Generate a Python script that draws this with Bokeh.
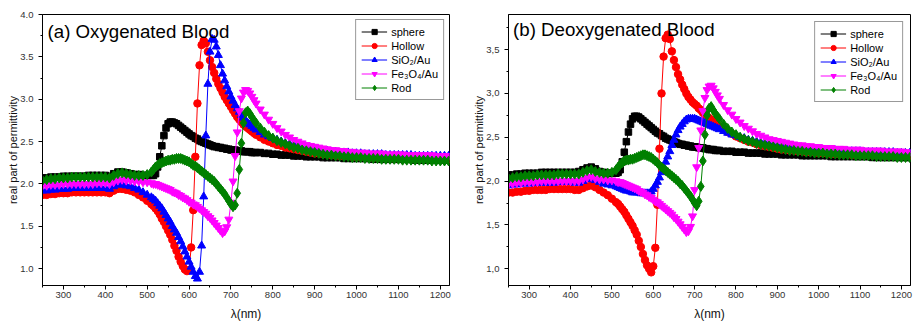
from bokeh.plotting import figure
from bokeh.layouts import row
from bokeh.models import FixedTicker, Label, Range1d, CustomJSTickFormatter
from bokeh.embed import file_html
from bokeh.resources import INLINE

# wavelength grid (nm)
WL = [250, 260, 270, 280, 290, 300, 310, 320, 330, 340,
      350, 360, 370, 380, 390, 400, 410, 420, 430, 440,
      450, 460, 470, 480, 490, 500, 510,
      515, 520, 525, 530, 535, 540, 545, 550, 555, 560,
      565, 570, 575, 580, 585, 590, 595, 600, 605, 610,
      615, 620, 625, 630, 635, 640, 645, 650, 655, 660,
      665, 670, 675, 680, 685, 690, 695, 700, 705, 710,
      715, 720, 725, 730, 735, 740, 745, 750, 755, 760,
      770, 780, 790, 800, 810, 820, 830, 840, 850, 860,
      870, 880, 890, 900, 910, 920, 930, 940, 950, 960,
      970, 980, 990, 1000, 1010, 1020, 1030, 1040, 1050, 1060,
      1070, 1080, 1090, 1100, 1110, 1120, 1130, 1140, 1150, 1160,
      1170, 1180, 1190, 1200, 1210, 1220]

SERIES_NAMES = ["sphere", "Hollow", "SiO\u2082/Au", "Fe\u2083O\u2084/Au", "Rod"]

# ---------------- (a) Oxygenated blood ----------------
OXY_SPHERE = [2.07, 2.07, 2.08, 2.08, 2.08, 2.09, 2.09, 2.09, 2.09, 2.09,
              2.09, 2.10, 2.10, 2.10, 2.10, 2.10, 2.09, 2.12, 2.14, 2.14,
              2.13, 2.12, 2.11, 2.11, 2.10, 2.10, 2.10,
              2.10, 2.12, 2.20, 2.32, 2.45, 2.57, 2.66, 2.71, 2.73, 2.73,
              2.72, 2.71, 2.69, 2.67, 2.65, 2.63, 2.61, 2.59, 2.57, 2.56,
              2.54, 2.53, 2.51, 2.50, 2.49, 2.48, 2.47, 2.46, 2.45, 2.44,
              2.44, 2.43, 2.43, 2.42, 2.42, 2.41, 2.41, 2.40, 2.40, 2.40,
              2.39, 2.39, 2.39, 2.38, 2.38, 2.38, 2.38, 2.37, 2.37, 2.37,
              2.37, 2.36, 2.36, 2.35, 2.35, 2.34, 2.34, 2.34, 2.33, 2.33,
              2.33, 2.32, 2.32, 2.32, 2.32, 2.31, 2.31, 2.31, 2.31, 2.31,
              2.30, 2.30, 2.30, 2.30, 2.30, 2.30, 2.30, 2.29, 2.29, 2.29,
              2.29, 2.29, 2.29, 2.29, 2.29, 2.29, 2.29, 2.28, 2.28, 2.28,
              2.28, 2.28, 2.28, 2.28, 2.28, 2.28]
OXY_HOLLOW = [1.87, 1.87, 1.88, 1.88, 1.89, 1.89, 1.89, 1.90, 1.90, 1.90,
              1.90, 1.90, 1.90, 1.90, 1.90, 1.90, 1.89, 1.92, 1.94, 1.94,
              1.93, 1.92, 1.90, 1.87, 1.84, 1.80, 1.76,
              1.74, 1.71, 1.68, 1.64, 1.59, 1.55, 1.50, 1.45, 1.40, 1.34,
              1.27, 1.21, 1.14, 1.08, 1.03, 0.99, 0.97, 0.98, 1.25, 1.69,
              2.32, 2.95, 3.40, 3.64, 3.69, 3.66, 3.56, 3.46, 3.38, 3.31,
              3.24, 3.18, 3.13, 3.08, 3.03, 2.99, 2.95, 2.91, 2.87, 2.83,
              2.79, 2.76, 2.73, 2.70, 2.68, 2.66, 2.64, 2.62, 2.60, 2.58,
              2.55, 2.52, 2.50, 2.48, 2.46, 2.45, 2.43, 2.42, 2.41, 2.40,
              2.39, 2.38, 2.37, 2.36, 2.36, 2.35, 2.35, 2.34, 2.34, 2.33,
              2.33, 2.33, 2.32, 2.32, 2.32, 2.32, 2.31, 2.31, 2.31, 2.31,
              2.31, 2.31, 2.30, 2.30, 2.30, 2.30, 2.30, 2.30, 2.30, 2.30,
              2.30, 2.30, 2.30, 2.30, 2.29, 2.29]
OXY_SIO2 = [1.92, 1.92, 1.93, 1.93, 1.94, 1.94, 1.94, 1.95, 1.95, 1.95,
            1.95, 1.95, 1.95, 1.95, 1.95, 1.95, 1.94, 1.97, 1.99, 1.99,
            1.98, 1.97, 1.95, 1.93, 1.90, 1.87, 1.84,
            1.82, 1.80, 1.77, 1.74, 1.71, 1.67, 1.63, 1.59, 1.55, 1.50,
            1.46, 1.42, 1.37, 1.32, 1.26, 1.20, 1.14, 1.08, 1.02, 0.96,
            0.91, 0.88, 0.96, 1.27, 1.85, 2.57, 3.18, 3.56, 3.71, 3.70,
            3.62, 3.52, 3.40, 3.30, 3.22, 3.15, 3.09, 3.03, 2.98, 2.93,
            2.89, 2.85, 2.81, 2.78, 2.75, 2.72, 2.70, 2.68, 2.66, 2.64,
            2.61, 2.58, 2.56, 2.54, 2.52, 2.50, 2.48, 2.47, 2.46, 2.44,
            2.43, 2.42, 2.41, 2.41, 2.40, 2.39, 2.39, 2.38, 2.38, 2.37,
            2.37, 2.37, 2.36, 2.36, 2.36, 2.35, 2.35, 2.35, 2.35, 2.35,
            2.34, 2.34, 2.34, 2.34, 2.34, 2.34, 2.34, 2.33, 2.33, 2.33,
            2.33, 2.33, 2.33, 2.33, 2.33, 2.33]
OXY_FE3O4 = [1.98, 1.98, 1.99, 1.99, 1.99, 2.00, 2.00, 2.00, 2.00, 2.00,
             2.00, 2.00, 2.00, 2.01, 2.01, 2.01, 2.00, 2.02, 2.04, 2.05,
             2.04, 2.04, 2.03, 2.03, 2.02, 2.02, 2.01,
             2.00, 2.00, 1.99, 1.98, 1.97, 1.96, 1.95, 1.94, 1.93, 1.91,
             1.90, 1.89, 1.87, 1.86, 1.84, 1.83, 1.81, 1.79, 1.78, 1.76,
             1.75, 1.73, 1.71, 1.69, 1.67, 1.65, 1.62, 1.60, 1.57, 1.54,
             1.51, 1.48, 1.45, 1.42, 1.44, 1.49, 1.58, 1.78, 2.03, 2.33,
             2.61, 2.86, 3.01, 3.08, 3.11, 3.10, 3.07, 3.03, 2.99, 2.95,
             2.88, 2.82, 2.76, 2.71, 2.66, 2.62, 2.58, 2.55, 2.52, 2.50,
             2.48, 2.46, 2.45, 2.44, 2.43, 2.42, 2.41, 2.40, 2.40, 2.39,
             2.39, 2.38, 2.38, 2.37, 2.37, 2.37, 2.36, 2.36, 2.36, 2.36,
             2.35, 2.35, 2.35, 2.35, 2.35, 2.34, 2.34, 2.34, 2.34, 2.34,
             2.34, 2.34, 2.33, 2.33, 2.33, 2.33]
OXY_ROD = [2.04, 2.05, 2.06, 2.06, 2.07, 2.07, 2.07, 2.08, 2.08, 2.08,
           2.08, 2.08, 2.08, 2.08, 2.08, 2.08, 2.07, 2.10, 2.12, 2.13,
           2.12, 2.11, 2.10, 2.10, 2.10, 2.11, 2.14,
           2.17, 2.20, 2.22, 2.24, 2.25, 2.26, 2.27, 2.28, 2.28, 2.29,
           2.29, 2.30, 2.30, 2.30, 2.29, 2.28, 2.27, 2.26, 2.24, 2.22,
           2.21, 2.19, 2.17, 2.15, 2.13, 2.11, 2.09, 2.07, 2.05, 2.03,
           2.00, 1.97, 1.94, 1.91, 1.88, 1.84, 1.80, 1.76, 1.73, 1.75,
           1.89, 2.17, 2.48, 2.72, 2.84, 2.86, 2.83, 2.79, 2.75, 2.72,
           2.66, 2.61, 2.57, 2.54, 2.51, 2.49, 2.47, 2.45, 2.43, 2.42,
           2.40, 2.39, 2.38, 2.37, 2.36, 2.35, 2.34, 2.34, 2.33, 2.33,
           2.32, 2.32, 2.31, 2.31, 2.31, 2.30, 2.30, 2.30, 2.30, 2.29,
           2.29, 2.29, 2.29, 2.29, 2.28, 2.28, 2.28, 2.28, 2.28, 2.28,
           2.28, 2.27, 2.27, 2.27, 2.27, 2.27]

# ---------------- (b) Deoxygenated blood ----------------
DEOXY_SPHERE = [2.07, 2.07, 2.08, 2.08, 2.09, 2.09, 2.09, 2.09, 2.10, 2.10,
                2.10, 2.10, 2.10, 2.10, 2.10, 2.10, 2.10, 2.11, 2.13, 2.15,
                2.16, 2.14, 2.11, 2.10, 2.09, 2.09, 2.09,
                2.10, 2.13, 2.22, 2.33, 2.45, 2.56, 2.65, 2.71, 2.74, 2.74,
                2.73, 2.71, 2.69, 2.67, 2.65, 2.63, 2.61, 2.59, 2.57, 2.55,
                2.54, 2.52, 2.51, 2.49, 2.48, 2.47, 2.46, 2.45, 2.44, 2.43,
                2.42, 2.42, 2.41, 2.41, 2.40, 2.40, 2.39, 2.39, 2.39, 2.38,
                2.38, 2.38, 2.37, 2.37, 2.36, 2.36, 2.36, 2.35, 2.35, 2.35,
                2.34, 2.34, 2.34, 2.33, 2.33, 2.33, 2.32, 2.32, 2.32, 2.32,
                2.31, 2.31, 2.31, 2.31, 2.30, 2.30, 2.30, 2.30, 2.30, 2.29,
                2.29, 2.29, 2.29, 2.29, 2.29, 2.29, 2.28, 2.28, 2.28, 2.28,
                2.28, 2.28, 2.28, 2.28, 2.28, 2.28, 2.27, 2.27, 2.27, 2.27,
                2.27, 2.27, 2.27, 2.27, 2.27, 2.27]
DEOXY_HOLLOW = [1.87, 1.87, 1.88, 1.88, 1.89, 1.89, 1.90, 1.90, 1.90, 1.90,
                1.91, 1.91, 1.91, 1.91, 1.91, 1.91, 1.90, 1.90, 1.92, 1.94,
                1.95, 1.93, 1.90, 1.87, 1.84, 1.80, 1.76,
                1.74, 1.71, 1.68, 1.65, 1.61, 1.57, 1.53, 1.49, 1.44, 1.39,
                1.32, 1.25, 1.17, 1.10, 1.04, 1.00, 0.96, 1.03, 1.24, 1.73,
                2.37, 3.00, 3.42, 3.63, 3.67, 3.62, 3.48, 3.38, 3.30, 3.22,
                3.16, 3.10, 3.05, 3.00, 2.96, 2.93, 2.90, 2.88, 2.86, 2.83,
                2.81, 2.78, 2.76, 2.74, 2.72, 2.70, 2.68, 2.66, 2.64, 2.62,
                2.59, 2.56, 2.54, 2.51, 2.49, 2.47, 2.45, 2.44, 2.42, 2.41,
                2.40, 2.39, 2.38, 2.37, 2.36, 2.36, 2.35, 2.35, 2.34, 2.34,
                2.33, 2.33, 2.33, 2.32, 2.32, 2.32, 2.31, 2.31, 2.31, 2.31,
                2.31, 2.30, 2.30, 2.30, 2.30, 2.30, 2.30, 2.30, 2.30, 2.29,
                2.29, 2.29, 2.29, 2.29, 2.29, 2.29]
DEOXY_SIO2 = [1.95, 1.96, 1.96, 1.97, 1.97, 1.97, 1.98, 1.98, 1.98, 1.98,
              1.98, 1.98, 1.99, 1.99, 1.99, 1.99, 1.98, 1.98, 2.00, 2.02,
              2.03, 2.01, 1.99, 1.97, 1.96, 1.95, 1.94,
              1.93, 1.92, 1.91, 1.90, 1.89, 1.89, 1.88, 1.87, 1.87, 1.87,
              1.87, 1.86, 1.86, 1.86, 1.86, 1.86, 1.88, 1.91, 1.95, 1.99,
              2.04, 2.10, 2.16, 2.22, 2.28, 2.34, 2.41, 2.47, 2.53, 2.58,
              2.62, 2.65, 2.68, 2.70, 2.71, 2.71, 2.71, 2.71, 2.70, 2.69,
              2.68, 2.67, 2.66, 2.65, 2.64, 2.63, 2.62, 2.61, 2.60, 2.59,
              2.57, 2.55, 2.53, 2.52, 2.50, 2.49, 2.47, 2.46, 2.45, 2.44,
              2.43, 2.42, 2.41, 2.40, 2.40, 2.39, 2.39, 2.38, 2.38, 2.37,
              2.37, 2.36, 2.36, 2.36, 2.35, 2.35, 2.35, 2.35, 2.34, 2.34,
              2.34, 2.34, 2.34, 2.34, 2.33, 2.33, 2.33, 2.33, 2.33, 2.33,
              2.33, 2.33, 2.32, 2.32, 2.32, 2.32]
DEOXY_FE3O4 = [1.97, 1.97, 1.98, 1.98, 1.99, 1.99, 1.99, 1.99, 2.00, 2.00,
               2.00, 2.00, 2.00, 2.00, 2.00, 2.00, 2.00, 2.00, 2.02, 2.04,
               2.05, 2.03, 2.02, 2.02, 2.01, 2.01, 2.00,
               1.99, 1.99, 1.98, 1.97, 1.96, 1.95, 1.94, 1.93, 1.92, 1.91,
               1.89, 1.88, 1.87, 1.85, 1.84, 1.82, 1.81, 1.79, 1.77, 1.76,
               1.74, 1.72, 1.70, 1.68, 1.66, 1.64, 1.62, 1.59, 1.57, 1.54,
               1.51, 1.48, 1.45, 1.42, 1.43, 1.48, 1.60, 1.90, 2.16, 2.38,
               2.58, 2.80, 2.95, 3.04, 3.08, 3.09, 3.06, 3.02, 2.98, 2.94,
               2.87, 2.81, 2.76, 2.71, 2.67, 2.63, 2.60, 2.57, 2.54, 2.52,
               2.50, 2.48, 2.47, 2.46, 2.45, 2.44, 2.43, 2.42, 2.41, 2.41,
               2.40, 2.40, 2.39, 2.39, 2.38, 2.38, 2.38, 2.37, 2.37, 2.37,
               2.36, 2.36, 2.36, 2.36, 2.35, 2.35, 2.35, 2.35, 2.35, 2.34,
               2.34, 2.34, 2.34, 2.34, 2.33, 2.33]
DEOXY_ROD = [2.03, 2.04, 2.05, 2.05, 2.06, 2.06, 2.06, 2.07, 2.07, 2.07,
             2.07, 2.07, 2.08, 2.08, 2.08, 2.08, 2.08, 2.08, 2.10, 2.12,
             2.13, 2.11, 2.10, 2.09, 2.09, 2.10, 2.13,
             2.16, 2.19, 2.21, 2.23, 2.24, 2.24, 2.25, 2.25, 2.26, 2.27,
             2.28, 2.29, 2.30, 2.30, 2.29, 2.28, 2.27, 2.25, 2.23, 2.21,
             2.18, 2.16, 2.14, 2.12, 2.10, 2.08, 2.06, 2.04, 2.02, 2.00,
             1.97, 1.95, 1.92, 1.89, 1.86, 1.83, 1.79, 1.75, 1.72, 1.77,
             1.94, 2.23, 2.53, 2.75, 2.83, 2.85, 2.81, 2.77, 2.74, 2.71,
             2.65, 2.60, 2.56, 2.53, 2.50, 2.48, 2.46, 2.45, 2.43, 2.42,
             2.41, 2.40, 2.39, 2.38, 2.37, 2.36, 2.35, 2.35, 2.34, 2.34,
             2.33, 2.33, 2.32, 2.32, 2.32, 2.31, 2.31, 2.31, 2.30, 2.30,
             2.30, 2.30, 2.29, 2.29, 2.29, 2.29, 2.29, 2.28, 2.28, 2.28,
             2.28, 2.28, 2.27, 2.27, 2.27, 2.27]

X_MAJOR = [300, 400, 500, 600, 700, 800, 900, 1000, 1100, 1200]
X_MINOR = [250, 350, 450, 550, 650, 750, 850, 950, 1050, 1150]
YA_MAJOR = [1.0, 1.5, 2.0, 2.5, 3.0, 3.5, 4.0]
YB_MAJOR = [1.0, 1.5, 2.0, 2.5, 3.0, 3.5]
Y_MINOR = [1.25, 1.75, 2.25, 2.75, 3.25, 3.75]

COLORS = ["#000000", "#FF0000", "#0000FF", "#FF00FF", "#008000"]
MARKERS = ["square", "circle", "triangle", "inverted_triangle", "diamond"]
SIZES = [6.5, 7.5, 8, 8, 10]

FONT = "Liberation Sans"

for s in (OXY_SPHERE, OXY_HOLLOW, OXY_SIO2, OXY_FE3O4, OXY_ROD,
          DEOXY_SPHERE, DEOXY_HOLLOW, DEOXY_SIO2, DEOXY_FE3O4, DEOXY_ROD):
    assert len(s) == len(WL), len(s)


def make_panel(series, title, title_x, title_y, y_start, y_end, y_major, fmt_code,
               width, border_left, border_right, legend_margin):
    p = figure(width=width, height=323, output_backend="svg", toolbar_location=None,
               x_range=Range1d(250, 1222), y_range=Range1d(y_start, y_end),
               min_border_left=border_left, min_border_right=border_right,
               min_border_top=14, min_border_bottom=38)
    p.xgrid.visible = False
    p.ygrid.visible = False
    p.outline_line_color = "#000000"
    p.outline_line_width = 1
    p.outline_line_alpha = 1
    p.background_fill_color = "white"
    p.border_fill_color = "white"

    for name, ys, col, mk, sz in zip(SERIES_NAMES, series, COLORS, MARKERS, SIZES):
        p.line(WL, ys, line_color=col, line_width=1, legend_label=name)
        p.scatter(WL, ys, marker=mk, size=sz, fill_color=col, line_color=col,
                  legend_label=name)

    p.xaxis.ticker = FixedTicker(ticks=X_MAJOR, minor_ticks=X_MINOR)
    p.yaxis.ticker = FixedTicker(ticks=y_major, minor_ticks=Y_MINOR)
    p.yaxis.formatter = CustomJSTickFormatter(code=fmt_code)
    for ax in (p.xaxis[0], p.yaxis[0]):
        ax.axis_line_color = "#000000"
        ax.axis_line_width = 1
        ax.major_tick_line_color = "#000000"
        ax.minor_tick_line_color = "#000000"
        ax.major_tick_in = 0
        ax.major_tick_out = 4
        ax.minor_tick_in = 0
        ax.minor_tick_out = 2
        ax.major_label_text_font = FONT
        ax.major_label_text_font_size = "9.5px"
        ax.major_label_text_color = "#333333"
        ax.axis_label_text_font = FONT
        ax.axis_label_text_font_style = "normal"
        ax.axis_label_text_color = "#111111"
    p.xaxis.major_label_standoff = 2
    p.yaxis.major_label_standoff = 5
    p.xaxis.axis_label = "\u03bb(nm)"
    p.xaxis.axis_label_text_font_size = "12px"
    p.xaxis.axis_label_standoff = 6
    p.yaxis.axis_label = "real part of permittivity"
    p.yaxis.axis_label_text_font_size = "11px"
    p.yaxis.axis_label_standoff = -2

    p.add_layout(Label(x=title_x, y=title_y, text=title, text_font=FONT,
                       text_font_size="18.7px", text_color="#000000",
                       text_baseline="alphabetic", text_align="left"))

    lg = p.legend[0]
    lg.location = "top_right"
    lg.margin = legend_margin
    lg.padding = 5
    lg.spacing = 1
    lg.label_height = 13
    lg.glyph_height = 13
    lg.glyph_width = 26
    lg.label_standoff = 4
    lg.label_text_font = FONT
    lg.label_text_font_size = "11px"
    lg.label_text_color = "#000000"
    lg.border_line_color = "#333333"
    lg.border_line_width = 1.2
    lg.background_fill_alpha = 1
    return p


pa = make_panel([OXY_SPHERE, OXY_HOLLOW, OXY_SIO2, OXY_FE3O4, OXY_ROD],
                "(a) Oxygenated Blood", 262, 3.80, 0.80, 4.00, YA_MAJOR,
                "return tick.toFixed(1);", 455, 42, 6, 5)
pb = make_panel([DEOXY_SPHERE, DEOXY_HOLLOW, DEOXY_SIO2, DEOXY_FE3O4, DEOXY_ROD],
                "(b)  Deoxygenated Blood", 261, 3.73, 0.81, 3.90, YB_MAJOR,
                "return tick.toFixed(1).replace('.', ',');", 460, 53, 5, 7)

layout = row(pa, pb)
open("out.html", "w").write(file_html(layout, INLINE))
